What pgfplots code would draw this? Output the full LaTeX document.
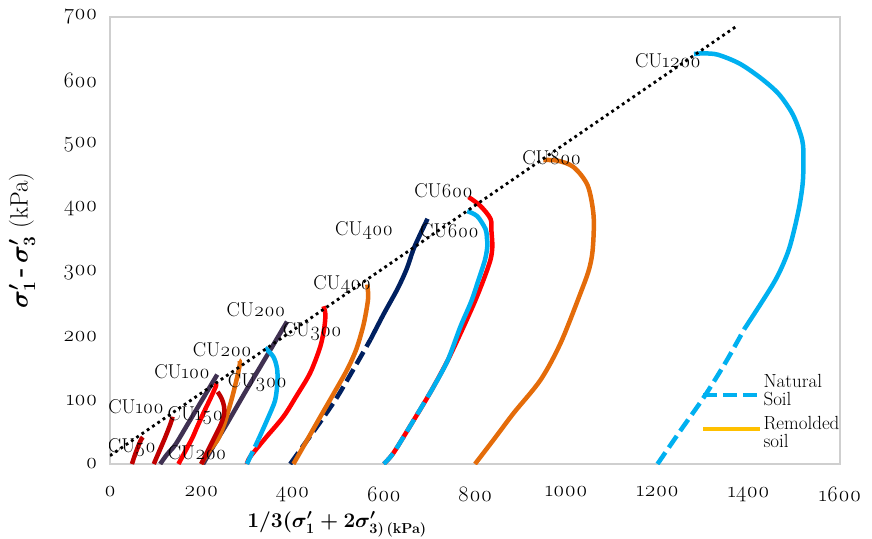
\documentclass[border=0pt]{standalone}
\usepackage{fontspec}
\setmainfont{Latin Modern Roman}[Numbers=OldStyle]
\usepackage{pgfplots}
\pgfplotsset{compat=1.18}
\definecolor{lblue}{HTML}{00B0F0}
\definecolor{cred}{HTML}{FF0000}
\definecolor{dred}{HTML}{C00000}
\definecolor{corange}{HTML}{E46C0A}
\definecolor{cnavy}{HTML}{002060}
\definecolor{cpurple}{HTML}{403152}
\definecolor{cgold}{HTML}{FFC000}
\definecolor{frame}{HTML}{CFCFCF}
\newcommand{\lbl}{\fontsize{20}{20}\selectfont}
\begin{document}
\begin{tikzpicture}
\begin{axis}[
  scale only axis, width=730pt, height=447pt,
  xmin=0, xmax=1600, ymin=0, ymax=700,
  xtick={0,200,...,1600}, ytick={0,100,...,700},
  major tick length=0pt,
  axis line style={draw=frame, line width=1.3pt},
  /pgf/number format/assume math mode=true,
  /pgf/number format/1000 sep={},
  tick label style={font=\fontsize{22}{22}\selectfont},
  xticklabel style={yshift=-19pt},
  yticklabel style={xshift=-9pt},
  xlabel={\bfseries\addfontfeature{Numbers=Lining}1/3({\boldmath$\sigma'_{1}+2\sigma'_{\mathbf{3)\,(kPa)}}$}},
  ylabel={{\boldmath$\sigma'_{1}$}\,\textbf{-}\,{\boldmath$\sigma'_{3}$}\ (kPa)},
  xlabel style={at={(axis description cs:0.311,-0.135)}, anchor=center, font=\fontsize{21}{21}\selectfont},
  ylabel style={at={(axis description cs:-0.1205,0.5)}, anchor=center, font=\fontsize{25}{25}\selectfont},
  legend style={at={(axis cs:1295,143)}, anchor=north west, draw=none, fill=none,
    inner sep=0pt, row sep=16pt, font=\fontsize{19}{17}\selectfont, nodes={inner sep=1pt}},
  legend cell align=left,
  every axis plot/.append style={line width=4.5pt, line join=round, smooth, tension=0.5},
]
% CU50 dark red
\addplot[dred, forget plot] coordinates {(48,0) (55,15) (62,28) (68,38) (72,42)};
% CU100 purple
\addplot[cpurple, forget plot] coordinates {(110,0) (125,15) (143,30) (170,62) (200,98) (220,122) (235,140)};
% CU100 dark red
\addplot[dred, forget plot] coordinates {(96,0) (108,20) (120,40) (130,58) (135,68) (137,74)};
% CU200 purple
\addplot[cpurple, forget plot] coordinates {(204,0) (230,32) (257,64) (300,117) (350,177) (388,223)};
% CU200 orange
\addplot[corange, forget plot] coordinates {(200,0) (215,18) (230,32) (239,42) (252,66) (268,105) (280,140) (285,159) (283,162)};
% CU150 red
\addplot[cred, forget plot] coordinates {(150,0) (165,20) (180,40) (191,58) (205,80) (219,101) (228,115) (233,124) (230,127)};
% CU200 dark red
\addplot[dred, forget plot] coordinates {(200,0) (214,20) (228,40) (243,62) (250,78) (250,90) (245,102) (236,113)};
% CU300 red
\addplot[cred, forget plot] coordinates {(300,0) (307,11) (340,40) (380,74) (410,108) (439,143) (461,184) (470,215) (472,235) (468,247)};
% CU300 light blue
\addplot[lblue, dash pattern=on 14pt off 5pt, forget plot] coordinates {(300,0) (325,38)};
\addplot[lblue, forget plot] coordinates {(325,38) (345,70) (362,100) (367,130) (366,150) (358,168) (340,182)};
% CU400 navy
\addplot[cnavy, dash pattern=on 14pt off 6pt, forget plot] coordinates {(395,0) (430,35) (465,70) (498,105) (535,150) (571,195)};
\addplot[cnavy, forget plot] coordinates {(571,195) (600,235) (630,274) (650,305) (665,336) (680,360) (696,384)};
% CU400 orange
\addplot[corange, forget plot] coordinates {(402,0) (430,35) (461,74) (490,110) (520,148) (540,180) (555,216) (563,245) (566,263) (564,281)};
% CU600 red
\addplot[cred, forget plot] coordinates {(600,0) (621,17) (660,62) (702,112) (740,162) (775,215) (800,255) (819,289) (834,320) (838,341) (836,365) (834,384) (812,404) (786,418)};
% CU600 light blue
\addplot[lblue, dash pattern=on 14pt off 6pt, forget plot] coordinates {(600,0) (621,17) (660,62) (702,112) (710,122)};
\addplot[lblue, forget plot] coordinates {(710,122) (740,162) (768,215) (792,255) (808,289) (822,320) (827,341) (826,355) (823,368) (805,388) (783,396)};
% CU800 orange
\addplot[corange, forget plot] coordinates {(800,0) (845,42) (885,80) (944,132) (988,190) (1032,269) (1050,305) (1058,336) (1060,388) (1047,436) (1016,465) (981,475) (950,476)};
% CU1200 light blue
\addplot[lblue, dash pattern=on 14pt off 6pt, forget plot] coordinates {(1200,0) (1250,52) (1302,105) (1350,160) (1390,211)};
\addplot[lblue, forget plot] coordinates {(1390,211) (1456,285) (1485,330) (1500,368) (1512,408) (1519,447) (1519,499) (1508,528) (1493,552) (1465,580) (1427,604) (1380,627) (1332,641) (1300,643) (1280,642)};
% failure line
\addplot[black, line width=2.8pt, line cap=butt, dash pattern=on 2.8pt off 3.6pt, sharp plot, forget plot] coordinates {(0,13) (1372,685)};
% legend
\addlegendimage{legend image code/.code={\draw[lblue, line width=4.5pt, dash pattern=on 14pt off 6pt] (0pt,-9pt) -- (57pt,-9pt);}}
\addlegendentry{\begin{tabular}{@{}l@{}}Natural\\Soil\end{tabular}}
\addlegendimage{legend image code/.code={\draw[cgold, line width=4.5pt] (0pt,-1pt) -- (57pt,-1pt);}}
\addlegendentry{\begin{tabular}{@{}l@{}}Remolded\\soil\end{tabular}}
% labels
\node[font=\lbl] at (axis cs:1223,632) {CU1200};
\node[font=\lbl] at (axis cs:968,480) {CU800};
\node[font=\lbl] at (axis cs:731,428) {CU600};
\node[font=\lbl] at (axis cs:744,366) {CU600};
\node[font=\lbl] at (axis cs:557,366) {CU400};
\node[font=\lbl] at (axis cs:509,281) {CU400};
\node[font=\lbl] at (axis cs:443,208) {CU300};
\node[font=\lbl] at (axis cs:320,242) {CU200};
\node[font=\lbl] at (axis cs:246,179) {CU200};
\node[font=\lbl] at (axis cs:158,145) {CU100};
\node[font=\lbl] at (axis cs:323,127) {CU300};
\node[font=\lbl] at (axis cs:57,90) {CU100};
\node[font=\lbl] at (axis cs:187,75) {CU150};
\node[font=\lbl] at (axis cs:48,25) {CU50};
\node[font=\lbl] at (axis cs:191,17) {CU200};
\end{axis}
\pgfresetboundingbox
\path (current axis.south west) ++(-110pt,-74pt) rectangle ++(872pt,538pt);
\end{tikzpicture}
\end{document}
